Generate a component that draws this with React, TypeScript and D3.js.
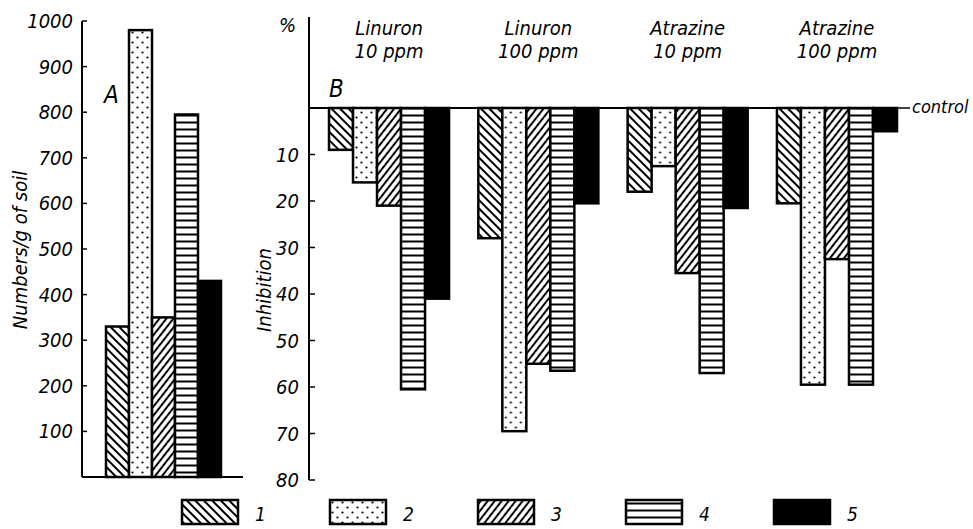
import React from "react";
import * as d3 from "d3";

const seriesNames = ["1", "2", "3", "4", "5"];
const countsA = [330, 980, 350, 795, 430];
const ticksA = [100, 200, 300, 400, 500, 600, 700, 800, 900, 1000];

const groupsB = ["Linuron|10 ppm", "Linuron|100 ppm", "Atrazine|10 ppm", "Atrazine|100 ppm"];
const inhib1 = [9, 28, 18, 20.5];
const inhib2 = [16, 69.5, 12.5, 59.5];
const inhib3 = [21, 55, 35.5, 32.5];
const inhib4 = [60.5, 56.5, 57, 59.5];
const inhib5 = [41, 20.5, 21.5, 5];
const ticksB = [10, 20, 30, 40, 50, 60, 70, 80];

const inhibBySeries = [inhib1, inhib2, inhib3, inhib4, inhib5];
const fills = ["url(#p1)", "url(#p2)", "url(#p3)", "url(#p4)", "#000"];

const FONT = "'Liberation Sans Narrow', 'DejaVu Sans Condensed', 'Liberation Sans', Arial, sans-serif";

export default function App() {
  const W = 973, H = 529;
  // Panel A
  const xA = d3.scaleBand().domain(seriesNames).range([106, 221]).padding(0);
  const yA = d3.scaleLinear().domain([0, 1000]).range([477, 21]);
  const axA = 82;
  // Panel B
  const xG = d3.scaleBand().domain(groupsB).range([329, 897]).paddingInner(0.196).paddingOuter(0);
  const xS = d3.scaleBand().domain(seriesNames).range([0, xG.bandwidth()]).padding(0);
  const yB = d3.scaleLinear().domain([0, 80]).range([108, 480]);
  const axB = 309;

  const legendX = d3.scaleBand().domain(seriesNames).range([182, 182 + 148 * 5]).padding(0);

  return (
    <svg width={W} height={H} style={{ position: "absolute", left: 0, top: 0, background: "#fff" }}>
      <defs>
        <pattern id="p1" patternUnits="userSpaceOnUse" width="6" height="6" patternTransform="rotate(-45)">
          <rect width="6" height="6" fill="#fff" />
          <line x1="3" y1="0" x2="3" y2="6" stroke="#000" strokeWidth="2" />
        </pattern>
        <pattern id="p3" patternUnits="userSpaceOnUse" width="5.5" height="6" patternTransform="rotate(38)">
          <rect width="5.5" height="6" fill="#fff" />
          <line x1="2.75" y1="0" x2="2.75" y2="6" stroke="#000" strokeWidth="2" />
        </pattern>
        <pattern id="p2" patternUnits="userSpaceOnUse" width="10" height="10">
          <rect width="10" height="10" fill="#fff" />
          <circle cx="2.5" cy="2.5" r="1.1" fill="#000" />
          <circle cx="7.5" cy="7.5" r="1.1" fill="#000" />
        </pattern>
        <pattern id="p4" patternUnits="userSpaceOnUse" width="8" height="7">
          <rect width="8" height="7" fill="#fff" />
          <rect x="0" y="2.5" width="8" height="2" fill="#000" />
        </pattern>
      </defs>

      {/* Panel A */}
      <g fontFamily={FONT} fontStyle="italic" fill="#000">
        {countsA.map((v, i) => (
          <rect key={i} x={xA(seriesNames[i])!} y={yA(v)} width={xA.bandwidth()} height={yA(0) - yA(v)}
            fill={fills[i]} stroke="#000" strokeWidth={2.5} />
        ))}
        <line x1={axA} y1={yA(1000)} x2={axA} y2={yA(0)} stroke="#000" strokeWidth={2} />
        <line x1={axA} y1={yA(0)} x2={243} y2={yA(0)} stroke="#000" strokeWidth={2} />
        {ticksA.map((t) => (
          <g key={t}>
            <line x1={axA} y1={yA(t)} x2={axA + 5} y2={yA(t)} stroke="#000" strokeWidth={1.5} />
            <text x={axA - 9} y={yA(t) + 7} textAnchor="end" fontSize={20}>{t}</text>
          </g>
        ))}
        <text x={104} y={103} fontSize={24}>A</text>
        <text transform={`translate(27,250) rotate(-90)`} textAnchor="middle" fontSize={20}>Numbers/g of soil</text>
      </g>

      {/* Panel B */}
      <g fontFamily={FONT} fontStyle="italic" fill="#000">
        {groupsB.map((g, gi) => (
          <g key={g} transform={`translate(${xG(g)},0)`}>
            {inhibBySeries.map((arr, si) => (
              <rect key={si} x={xS(seriesNames[si])!} y={yB(0)} width={xS.bandwidth()} height={yB(arr[gi]) - yB(0)}
                fill={fills[si]} stroke="#000" strokeWidth={2.5} />
            ))}
            <text x={xG.bandwidth() / 2} y={35} textAnchor="middle" fontSize={20}>{g.split("|")[0]}</text>
            <text x={xG.bandwidth() / 2} y={58} textAnchor="middle" fontSize={20}>{g.split("|")[1]}</text>
          </g>
        ))}
        <line x1={axB} y1={17} x2={axB} y2={yB(80)} stroke="#000" strokeWidth={2} />
        <line x1={axB} y1={yB(0)} x2={893} y2={yB(0)} stroke="#000" strokeWidth={2} />
        <line x1={897} y1={yB(0)} x2={910} y2={yB(0)} stroke="#000" strokeWidth={1.5} />
        <text x={912} y={yB(0) + 5} fontSize={18}>control</text>
        {ticksB.map((t) => (
          <g key={t}>
            <line x1={axB} y1={yB(t)} x2={axB + 6} y2={yB(t)} stroke="#000" strokeWidth={1.5} />
            <text x={axB - 10} y={yB(t) + 7} textAnchor="end" fontSize={20}>{t}</text>
          </g>
        ))}
        <text x={279} y={32} fontSize={20}>%</text>
        <text x={329} y={97} fontSize={24}>B</text>
        <text transform={`translate(271,290) rotate(-90)`} textAnchor="middle" fontSize={20}>Inhibition</text>
      </g>

      {/* Legend */}
      <g fontFamily={FONT} fontStyle="italic" fill="#000">
        {seriesNames.map((s, i) => (
          <g key={s} transform={`translate(${legendX(s)},500)`}>
            <rect x={0} y={0} width={56} height={24} fill={fills[i]} stroke="#000" strokeWidth={2.5} />
            <text x={73} y={21} fontSize={19}>{s}</text>
          </g>
        ))}
      </g>
    </svg>
  );
}
